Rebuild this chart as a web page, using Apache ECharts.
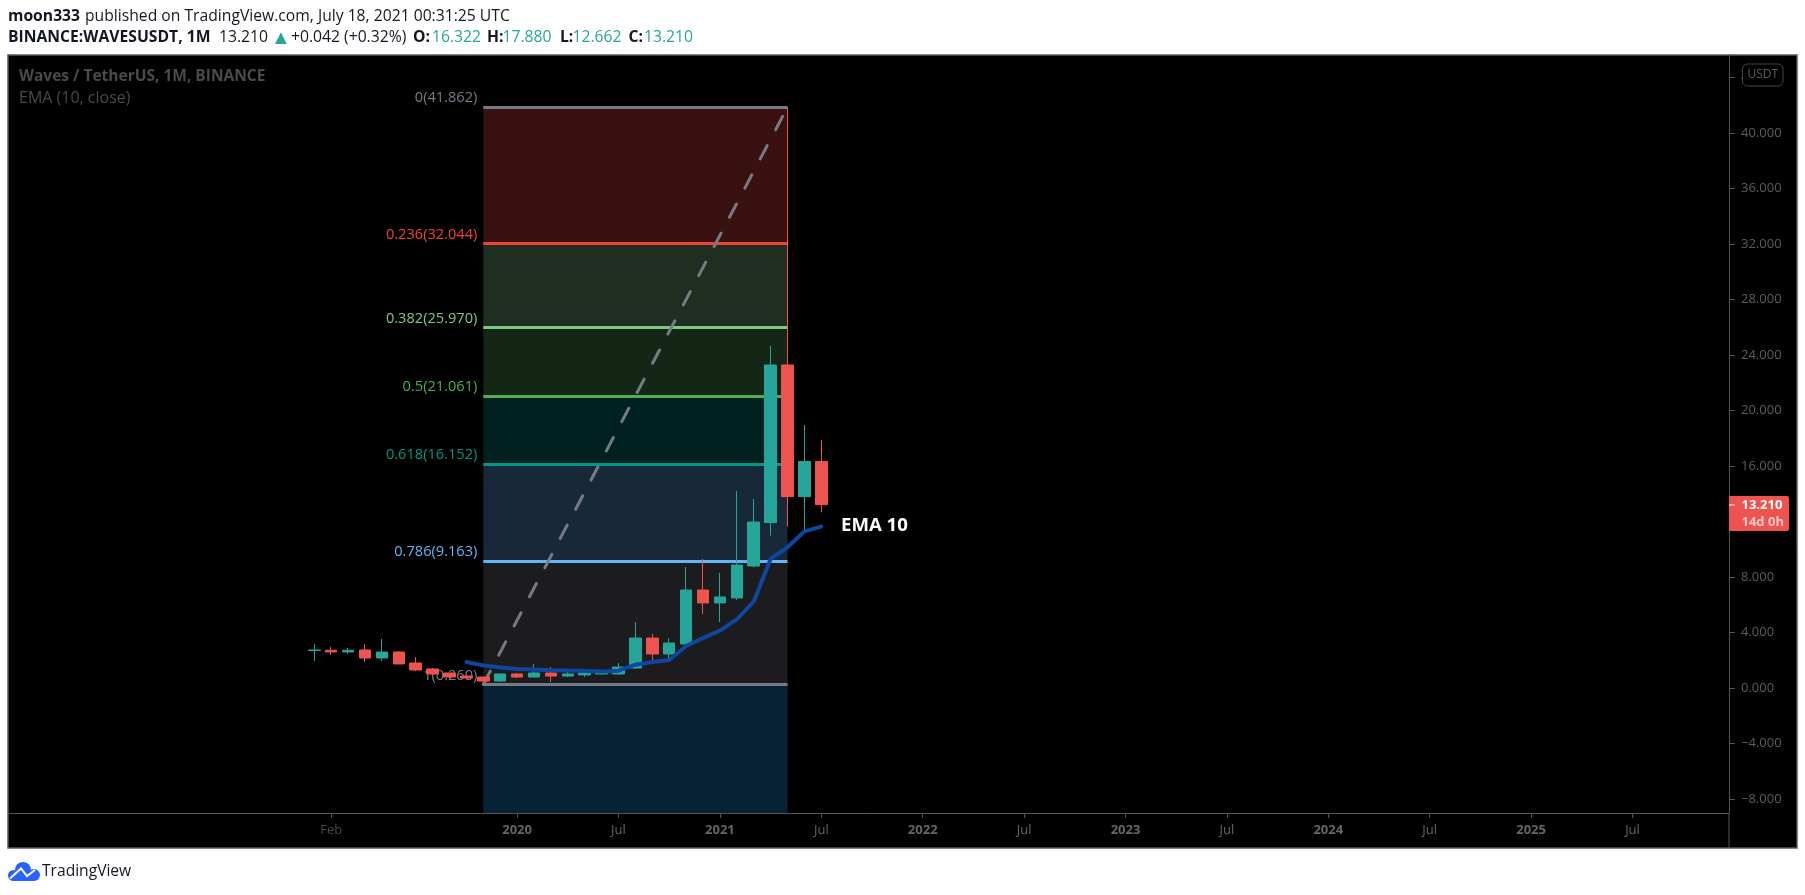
<!DOCTYPE html>
<html>
<head>
<meta charset="utf-8">
<style>html,body{margin:0;padding:0;background:#fff}#c{width:1805px;height:895px}</style>
<script src="https://cdn.jsdelivr.net/npm/echarts@6/dist/echarts.min.js"></script>
</head>
<body>
<div id="c"></div>
<script>
const months = ['2019-01','2019-02','2019-03','2019-04','2019-05','2019-06','2019-07','2019-08','2019-09','2019-10','2019-11','2019-12',
  '2020-01','2020-02','2020-03','2020-04','2020-05','2020-06','2020-07','2020-08','2020-09','2020-10','2020-11','2020-12',
  '2021-01','2021-02','2021-03','2021-04','2021-05','2021-06','2021-07'];
const opens  = [2.70,2.72,2.60,2.74,2.16,2.59,1.80,1.37,1.08,0.86,0.79,0.50,1.01,0.79,1.08,0.86,0.94,1.01,1.01,1.44,3.60,2.45,3.17,7.06,6.13,6.49,8.79,11.92,23.28,13.79,16.322];
const closes = [2.74,2.60,2.72,2.16,2.59,1.73,1.30,1.01,0.79,0.72,0.50,1.01,0.79,1.08,0.86,1.01,1.08,1.08,1.51,3.60,2.45,3.24,7.06,6.13,6.56,8.86,11.96,23.28,13.79,16.32,13.21];
const lows   = [1.95,2.38,2.47,1.87,1.95,1.73,1.22,1.00,0.70,0.60,0.26,0.43,0.72,0.79,0.43,0.79,0.79,0.94,0.94,1.37,1.95,1.95,2.95,5.33,4.76,6.34,8.70,10.98,11.63,11.30,12.662];
const highs  = [3.17,2.95,2.88,3.17,3.53,2.66,2.23,1.44,1.10,0.90,0.80,1.05,1.08,1.73,1.51,1.15,1.15,1.30,1.80,4.76,3.89,3.60,8.72,9.30,8.29,14.20,13.62,24.65,41.862,18.95,17.88];
const emaValues = [null,null,null,null,null,null,null,null,null,1.87,1.63,1.48,1.37,1.33,1.28,1.26,1.23,1.19,1.25,1.68,1.87,2.02,3.03,3.60,4.13,4.95,6.22,9.30,10.14,11.29,11.63];

const fibRatios = ['0','0.236','0.382','0.5','0.618','0.786','1'];
const fibValues = [41.862,32.044,25.970,21.061,16.152,9.163,0.260];
const fibLineColors = ['#787b86','#f44336','#81c784','#4caf50','#009688','#64b5f6','#787b86'];
const fibZoneColors = ['#381110','#1f2e20','#142615','#012120','#172938','#1c1c1e','#072234'];
const fibStartMonth = '2019-11';
const fibEndMonth = '2021-05';

const yTicks = [-8,-4,0,4,8,12,16,20,24,28,32,36,40,44];
const yMin = -9.01, yMax = 45.62;
const xTickMonths = ['2019-02','2020-01','2020-07','2021-01','2021-07','2022-01','2022-07','2023-01','2023-07','2024-01','2024-07','2025-01','2025-07'];
const xTickLabels = ['Feb','2020','Jul','2021','Jul','2022','Jul','2023','Jul','2024','Jul','2025','Jul'];

const monthIndex = m => { const [y, mo] = m.split('-').map(Number); return (y - 2019) * 12 + mo - 1; };
const xTicks = xTickMonths.map(monthIndex);
const fibStart = monthIndex(fibStartMonth), fibEnd = monthIndex(fibEndMonth);

const FONT = '"Open Sans", sans-serif';
const candleData = months.map((m, i) => [i, opens[i], closes[i], lows[i], highs[i]]);
const emaData = months.map((m, i) => [i, emaValues[i]]);

const zones = fibZoneColors.map((c, i) => [
  { coord: [fibStart, fibValues[i]], itemStyle: { color: c, opacity: 1 } },
  { coord: [fibEnd, i + 1 < fibValues.length ? fibValues[i + 1] : yMin] }
]);
const fibLines = fibValues.map((v, i) => [
  { coord: [fibStart, v],
    lineStyle: { color: fibLineColors[i], width: 3, type: 'solid', opacity: 1 },
    label: { show: true, position: 'start', distance: 6, offset: [0, -9], color: fibLineColors[i],
      fontFamily: FONT, fontSize: 14.6, formatter: fibRatios[i] + '(' + v.toFixed(3) + ')' } },
  { coord: [fibEnd, v] }
]);

const txt = (text, x, y, font, fill, align) => ({ type: 'text', z: 100, silent: true,
  style: { text, x, y, font, fill, textAlign: align || 'left', textVerticalAlign: 'middle' } });
const hdr = (text, x, bold, fill, size) => txt(text, x, 38, (bold ? 'bold ' : '') + (size || 15.7) + 'px ' + FONT, fill || '#131722');
const TEAL = '#26a69a';
const BLUE = '#2962ff';
const dot = (cx, cy, r) => ({ type: 'circle', z: 100, silent: true, shape: { cx, cy, r }, style: { fill: BLUE } });

const graphicEls = [
  { type: 'rect', z: -1, silent: true, shape: { x: 8, y: 55, width: 1789, height: 793 }, style: { fill: '#000' } },
  { type: 'rect', z: 90, silent: true, shape: { x: 8, y: 55, width: 1789, height: 793 }, style: { fill: null, stroke: '#5a5a5a', lineWidth: 1.5 } },
  { type: 'line', z: 90, silent: true, shape: { x1: 1729, y1: 813, x2: 1729, y2: 848 }, style: { stroke: '#555', lineWidth: 1 } },
  txt('moon333', 8, 17, 'bold 15.7px ' + FONT, '#131722'),
  txt('published on TradingView.com, July 18, 2021 00:31:25 UTC', 85, 17, '15.7px ' + FONT, '#131722'),
  hdr('BINANCE:WAVESUSDT, 1M', 8, true),
  hdr('13.210', 219, false),
  hdr('▲', 271, false, TEAL, 20),
  hdr('+0.042 (+0.32%)', 291, false),
  hdr('O:', 413, true), hdr('16.322', 432, false, TEAL),
  hdr('H:', 487, true), hdr('17.880', 502.5, false, TEAL),
  hdr('L:', 560, true), hdr('12.662', 572.5, false, TEAL),
  hdr('C:', 628.6, true), hdr('13.210', 644, false, TEAL),
  txt('Waves / TetherUS, 1M, BINANCE', 19, 77, 'bold 15.5px ' + FONT, '#4a4a4a'),
  txt('EMA (10, close)', 19, 98.5, '16px ' + FONT, '#4a4a4a'),
  txt('EMA 10', 841, 525.5, 'bold 18.6px ' + FONT, '#ffffff'),
  { type: 'rect', z: 95, silent: true, shape: { x: 1742.5, y: 64, width: 40.5, height: 22, r: 5 }, style: { fill: '#000', stroke: '#444', lineWidth: 1 } },
  txt('USDT', 1762.7, 75, '12px ' + FONT, '#5d5d5d', 'center'),
  { type: 'rect', z: 95, silent: true, shape: { x: 1729, y: 496, width: 60, height: 35, r: [0, 2, 2, 0] }, style: { fill: '#ef5350' } },
  { type: 'line', z: 96, silent: true, shape: { x1: 1729, y1: 505, x2: 1735, y2: 505 }, style: { stroke: '#fff', lineWidth: 1 } },
  txt('13.210', 1741.5, 505.5, 'bold 13px ' + FONT, '#ffffff'),
  txt('14d 0h', 1741.5, 522, 'bold 13px ' + FONT, '#fbc9c8'),
  dot(13.5, 875.5, 5.5), dot(23, 870, 8), dot(34, 875, 6),
  { type: 'rect', z: 100, silent: true, shape: { x: 13, y: 872, width: 21, height: 9 }, style: { fill: BLUE } },
  { type: 'polyline', z: 101, silent: true, shape: { points: [[10, 878.5], [21, 868.5], [27, 876], [35, 870]] }, style: { stroke: '#fff', lineWidth: 2, fill: null } },
  txt('TradingView', 42, 872, '15.6px ' + FONT, '#131722')
];

const chart = echarts.init(document.getElementById('c'));
chart.setOption({
  animation: false,
  backgroundColor: '#ffffff',
  grid: { left: 8, right: 76, top: 55, height: 758, show: true, backgroundColor: '#000000', borderWidth: 0, containLabel: false },
  xAxis: {
    type: 'value', min: -18.124, max: 83.71, splitLine: { show: false },
    axisLine: { show: true, onZero: false, lineStyle: { color: '#555', width: 1 } },
    axisTick: { show: true, length: 5, customValues: xTicks, lineStyle: { color: '#555' } },
    axisLabel: { show: true, customValues: xTicks, margin: 11, fontFamily: FONT, fontSize: 13, showMinLabel: true, showMaxLabel: true,
      formatter: v => {
        const s = xTickLabels[xTicks.indexOf(v)];
        return /^\d+$/.test(s) ? '{y|' + s + '}' : (s === 'Feb' ? '{f|' + s + '}' : '{m|' + s + '}');
      },
      rich: {
        y: { fontFamily: FONT, fontSize: 13, fontWeight: 'bold', color: '#666' },
        m: { fontFamily: FONT, fontSize: 13, color: '#666' },
        f: { fontFamily: FONT, fontSize: 13, color: '#484848' }
      } }
  },
  yAxis: {
    type: 'value', position: 'right', min: yMin, max: yMax, splitLine: { show: false },
    axisLine: { show: true, onZero: false, lineStyle: { color: '#555', width: 1 } },
    axisTick: { show: true, length: 6, customValues: yTicks, lineStyle: { color: '#555' } },
    axisLabel: { show: true, customValues: yTicks, margin: 12, color: '#5d5d5d', fontFamily: FONT, fontSize: 13,
      formatter: v => (v < 0 ? '\u2212' : '') + Math.abs(v).toFixed(3) }
  },
  series: [
    { name: 'Fib retracement', type: 'line', z: 2, data: [], silent: true, symbol: 'none',
      markArea: { silent: true, z: 1, data: zones },
      markLine: { silent: true, z: 2, symbol: 'none', animation: false, data: fibLines } },
    { name: 'Trend', type: 'line', z: 3, silent: true, symbol: 'none',
      data: [[fibStart, fibValues[6]], [fibEnd, fibValues[0]]],
      lineStyle: { color: '#787b86', width: 3, type: [15, 18], cap: 'round' } },
    { name: 'WAVESUSDT', type: 'candlestick', z: 4, silent: true, barWidth: 12,
      data: candleData, encode: { x: 0, y: [1, 2, 3, 4] },
      itemStyle: { color: '#26a69a', color0: '#ef5350', borderColor: '#26a69a', borderColor0: '#ef5350', borderWidth: 1 } },
    { name: 'EMA 10', type: 'line', z: 5, silent: true, symbol: 'none', data: emaData, connectNulls: false,
      lineStyle: { color: '#0d47a1', width: 4, cap: 'round' } }
  ],
  graphic: { elements: graphicEls }
});
</script>
</body>
</html>
